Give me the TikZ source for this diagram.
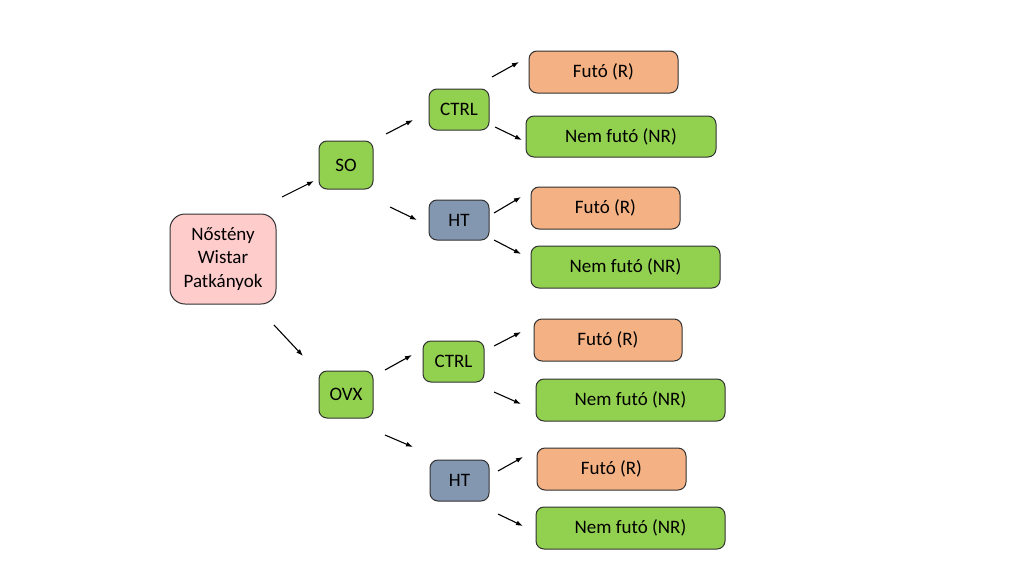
\documentclass[tikz,border=0pt]{standalone}
\usepackage{fontspec}
\setmainfont{Carlito}
\usetikzlibrary{arrows.meta}
\definecolor{boxgreen}{RGB}{146,208,80}
\definecolor{boxpink}{RGB}{255,204,204}
\definecolor{boxorange}{RGB}{244,177,131}
\definecolor{boxblue}{RGB}{132,151,176}
\definecolor{edge}{RGB}{50,50,50}
\tikzset{
  base/.style={draw=edge, line width=1pt, rounded corners=8pt, inner sep=0pt, outer sep=0pt,
    font=\fontsize{19}{23.5}\selectfont, align=center},
  greenbox/.style={base, fill=boxgreen},
  orangebox/.style={base, fill=boxorange},
  bluebox/.style={base, fill=boxblue},
  pinkbox/.style={base, fill=boxpink, rounded corners=15pt},
  arr/.style={-{Latex[length=7pt,width=5pt]}, line width=1.1pt, black},
}
\begin{document}
\begin{tikzpicture}[x=1pt,y=-1pt]
\useasboundingbox[fill=white] (0,0) rectangle (1024,576);
% nodes
\node[pinkbox, minimum width=106, minimum height=90] (root) at (223,259) {Nőstény\\Wistar\\Patkányok};
\node[greenbox, minimum width=54, minimum height=48] (so) at (346,165) {SO};
\node[greenbox, minimum width=54, minimum height=47] (ovx) at (346,394.5) {OVX};
\node[greenbox, minimum width=60, minimum height=41] (ctrlA) at (459,109.5) {CTRL};
\node[bluebox, minimum width=60, minimum height=40] (htA) at (459,220) {HT};
\node[greenbox, minimum width=61, minimum height=41] (ctrlB) at (453.5,361.5) {CTRL};
\node[bluebox, minimum width=59, minimum height=41] (htB) at (459.5,480.5) {HT};
\node[orangebox, minimum width=149, minimum height=42] (f1) at (603.5,72) {Futó (R)};
\node[greenbox, minimum width=190, minimum height=41] (n1) at (621,136.5) {Nem futó (NR)};
\node[orangebox, minimum width=149, minimum height=42] (f2) at (605.5,208) {Futó (R)};
\node[greenbox, minimum width=189, minimum height=42] (n2) at (625.5,267) {Nem futó (NR)};
\node[orangebox, minimum width=148, minimum height=42] (f3) at (608,340) {Futó (R)};
\node[greenbox, minimum width=189, minimum height=42] (n3) at (630.5,400) {Nem futó (NR)};
\node[orangebox, minimum width=149, minimum height=42] (f4) at (611.5,469) {Futó (R)};
\node[greenbox, minimum width=189, minimum height=42] (n4) at (630.5,528) {Nem futó (NR)};
% free-standing arrow ends
\coordinate (rootSOs) at (282,197);   \coordinate (rootSOe) at (314,181);
\coordinate (rootOVs) at (274,325);   \coordinate (rootOVe) at (303,356);
\coordinate (soCs) at (386,134);      \coordinate (soCe) at (413,120);
\coordinate (soHs) at (390,207);      \coordinate (soHe) at (417,220);
\coordinate (cAfs) at (492,77);       \coordinate (cAfe) at (519,62);
\coordinate (cAns) at (495,127);      \coordinate (cAne) at (522,140);
\coordinate (hAfs) at (494,213);      \coordinate (hAfe) at (521,197);
\coordinate (hAns) at (494,240);      \coordinate (hAne) at (521,254);
\coordinate (ovCs) at (385,370);      \coordinate (ovCe) at (412,355);
\coordinate (ovHs) at (385,435);      \coordinate (ovHe) at (413,447);
\coordinate (cBfs) at (494,346);      \coordinate (cBfe) at (521,332);
\coordinate (cBns) at (494,392);      \coordinate (cBne) at (521,404);
\coordinate (hBfs) at (498,471);      \coordinate (hBfe) at (523,457);
\coordinate (hBns) at (498,514);      \coordinate (hBne) at (523,526);
% connectors
\draw[arr] (rootSOs) -- (rootSOe);
\draw[arr] (rootOVs) -- (rootOVe);
\draw[arr] (soCs) -- (soCe);
\draw[arr] (soHs) -- (soHe);
\draw[arr] (cAfs) -- (cAfe);
\draw[arr] (cAns) -- (cAne);
\draw[arr] (hAfs) -- (hAfe);
\draw[arr] (hAns) -- (hAne);
\draw[arr] (ovCs) -- (ovCe);
\draw[arr] (ovHs) -- (ovHe);
\draw[arr] (cBfs) -- (cBfe);
\draw[arr] (cBns) -- (cBne);
\draw[arr] (hBfs) -- (hBfe);
\draw[arr] (hBns) -- (hBne);
\end{tikzpicture}
\end{document}
